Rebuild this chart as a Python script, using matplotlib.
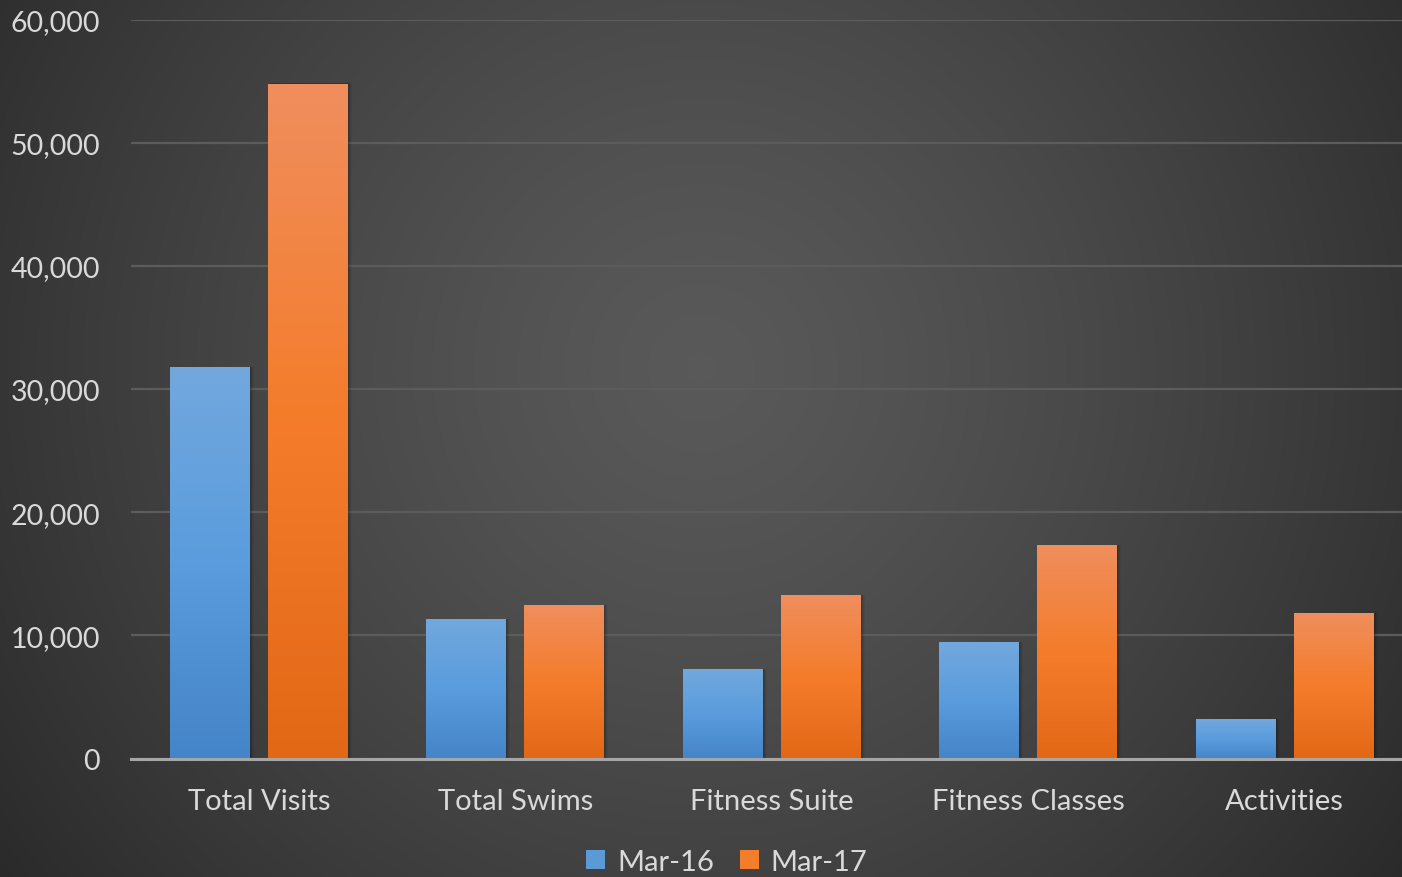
import numpy as np
import matplotlib
matplotlib.use("Agg")
import matplotlib.pyplot as plt
from matplotlib.colors import LinearSegmentedColormap
from matplotlib.patches import Rectangle
from matplotlib.ticker import FuncFormatter, MultipleLocator

categories = ["Total Visits", "Total Swims", "Fitness Suite", "Fitness Classes", "Activities"]
series_names = ["Mar-16", "Mar-17"]
mar16 = [31800, 11300, 7250, 9450, 3200]
mar17 = [54800, 12450, 13250, 17300, 11800]

plt.rcParams['font.family'] = ['Lato', 'DejaVu Sans']
W, H = 1402, 878
fig = plt.figure(figsize=(W / 100, H / 100), dpi=100)

# radial background
bg = fig.add_axes([0, 0, 1, 1], zorder=-10)
yy, xx = np.mgrid[0:H, 0:W]
cx, cy = 0.5 * W, 0.42 * H
r = np.sqrt(((xx - cx) / (0.62 * W)) ** 2 + ((yy - cy) / (0.62 * W)) ** 2)
r = np.clip(r, 0, 1)
val = 0.35 - (0.35 - 0.165) * r ** 1.3
bg.imshow(np.dstack([val, val, val]), extent=[0, 1, 0, 1], aspect='auto', origin='upper')
bg.axis('off')

ax_left = 130.75 / W
ax_w = (1412.75 - 130.75) / W
ax_bottom = (H - 759.5) / H
ax_top = 1 - 20.5 / H
ax = fig.add_axes([ax_left, ax_bottom, ax_w, ax_top - ax_bottom])
ax.patch.set_alpha(0)

blue_cm = LinearSegmentedColormap.from_list("b", ["#4484c8", "#5a9cdd", "#72a8dd"])
orange_cm = LinearSegmentedColormap.from_list("o", ["#e26816", "#f47c2a", "#f08e5e"])
grad = np.linspace(0, 1, 256).reshape(-1, 1)

bw = 0.312
off = 0.191
for i, cat in enumerate(categories):
    for vals, cm, sgn in ((mar16, blue_cm, -1), (mar17, orange_cm, 1)):
        v = vals[i]
        x0 = i + sgn * off - bw / 2
        # soft shadow
        for k, a in enumerate([0.10, 0.08, 0.06, 0.04]):
            d = (k + 1) * 0.004
            ax.add_patch(Rectangle((x0 + d * 0.6, 0), bw + d * 0.4, v + d * 5000 * 0.25,
                                   facecolor='black', alpha=a, edgecolor='none', zorder=2))
        ax.imshow(grad, cmap=cm, extent=[x0, x0 + bw, 0, v], aspect='auto',
                  origin='lower', zorder=3)

ax.set_xlim(-0.5, len(categories) - 0.5)
ax.set_ylim(0, 60000)
ax.set_aspect('auto')

ax.yaxis.set_major_locator(MultipleLocator(10000))
ax.yaxis.set_major_formatter(FuncFormatter(lambda v, p: f"{int(v):,}"))
ax.set_xticks(range(len(categories)))
ax.set_xticklabels(categories)
ax.grid(axis='y', color='#5c5c5c', linewidth=1.6, zorder=1)
ax.set_axisbelow(True)
for s in ['top', 'right', 'left']:
    ax.spines[s].set_visible(False)
ax.spines['bottom'].set_color('#a6a6a6')
ax.spines['bottom'].set_linewidth(2.2)
ax.spines['bottom'].set_zorder(5)
ax.tick_params(axis='both', length=0, colors='#d9d9d9')
ax.tick_params(axis='y', pad=22, labelsize=20.5)
ax.tick_params(axis='x', pad=21, labelsize=21)

# legend
handles = [Rectangle((0, 0), 1, 1, facecolor='#5b9bd5'), Rectangle((0, 0), 1, 1, facecolor='#f47d2b')]
leg = fig.legend(handles, series_names, loc='center', bbox_to_anchor=(727 / W, 1 - 863 / H),
                 ncol=2, frameon=False, fontsize=21, labelcolor='#d9d9d9',
                 handlelength=0.65, handleheight=0.65, handletextpad=0.4, columnspacing=0.9)

fig.savefig("out.png", dpi=100)
